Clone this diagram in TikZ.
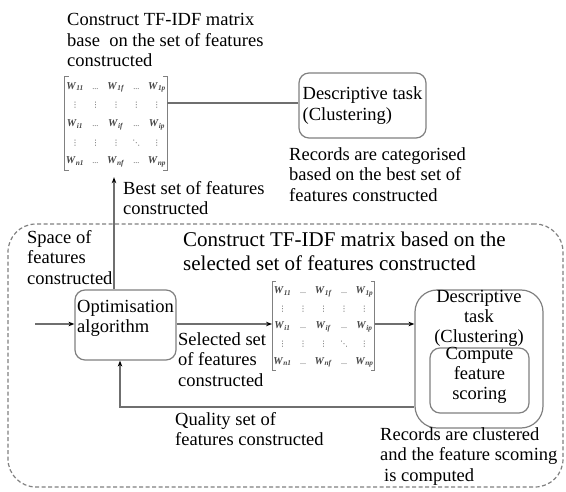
\documentclass[tikz,border=0pt]{standalone}
\usepackage{amsmath}
\usepackage{fontspec}
\setmainfont{Liberation Serif}
\newfontfamily\dejavu{DejaVu Sans}
\usetikzlibrary{arrows.meta,matrix}
\definecolor{linegray}{HTML}{6F6F6F}
\definecolor{boxgray}{HTML}{808080}
\definecolor{matgray}{HTML}{454545}
\newcommand{\mw}[1]{\textbf{\textit{W}}\textsubscript{\textbf{\textit{#1}}}}
\newcommand{\md}{{\fontsize{8}{8}\selectfont ...}}
\newcommand{\mv}{{\dejavu\fontsize{7.5}{8}\selectfont ⋮}}
\newcommand{\mdd}{{\dejavu\fontsize{7.5}{8}\selectfont ⋱}}
\begin{document}
\begin{tikzpicture}[x=1pt,y=-1pt,
  txt/.style={inner sep=0pt, align=left, anchor=north west, font=\fontsize{18.5}{20.5}\selectfont},
  ctxt/.style={inner sep=0pt, align=center, anchor=north, font=\fontsize{18.5}{20}\selectfont},
  head/.style={inner sep=0pt, align=left, anchor=north west, font=\fontsize{21}{24}\selectfont},
  box/.style={draw=boxgray, line width=1.2pt, rounded corners=10pt, inner sep=0pt},
  dbox/.style={draw=boxgray, line width=1.2pt, dashed, dash pattern=on 4pt off 2.5pt, rounded corners=28pt, inner sep=0pt},
  conn/.style={draw=linegray, line width=1.3pt},
  arr/.style={conn, -{Stealth[length=6pt,width=4.5pt,color=black]}},
  brk/.style={draw=boxgray, line width=1pt},
  tfm/.style={matrix of nodes, inner sep=0pt, column sep=0pt, row sep=0pt,
    nodes={inner sep=0pt, minimum width=20.5pt, minimum height=#1, anchor=center,
      text height=6.5pt, text depth=0.5pt, text=matgray, font=\fontsize{10.5}{12}\selectfont}},
]
\useasboundingbox (0,0) rectangle (566,492);

% upper part
\node[txt] (t1) at (67,13.4) {Construct TF-IDF matrix\\base\ \ on the set of features\\constructed};
\matrix (m1) [tfm=18.6pt] at (116,123.5) {
  \mw{11} & \md & \mw{1f} & \md & \mw{1p}\\
  \mv & \mv & \mv & \mv & \mv\\
  \mw{i1} & \md & \mw{if} & \md & \mw{ip}\\
  \mv & \mv & \mv & \mdd & \mv\\
  \mw{n1} & \md & \mw{nf} & \md & \mw{np}\\
};
\draw[brk] ([xshift=4pt]m1.north west) -- (m1.north west) -- (m1.south west) -- ([xshift=4pt]m1.south west);
\draw[brk] ([xshift=-4pt]m1.north east) -- (m1.north east) -- (m1.south east) -- ([xshift=-4pt]m1.south east);
\node[box, align=left, inner xsep=2pt, inner ysep=0pt, minimum width=127pt, minimum height=65pt,
      font=\fontsize{18.5}{21}\selectfont] (d1) at (362.5,105.5) {Descriptive task\\(Clustering)};
\node[txt] (r1) at (289,147) {Records are categorised\\based on the best set of\\features constructed};
\node[txt] (b1) at (123,181) {Best set of features\\constructed};
\coordinate (tl) at (0,103);
\draw[conn] (m1.east |- tl) -- (d1.west |- tl);

% dashed frame
\node[dbox, minimum width=555pt, minimum height=263pt] (frame) at (285.5,355.5) {};
\node[head] (h2) at (183,231.7) {Construct TF-IDF matrix based on the\\selected set of features constructed};
\node[txt] (s1) at (27,230) {Space of\\features\\constructed};

% optimisation
\node[box, minimum width=101pt, minimum height=70pt] (opt) at (125.5,325) {};
\node[txt] (optt) at (77,300) {Optimisation\\algorithm};
\coordinate (in) at (35,324);
\draw[arr] (in) -- (in -| opt.west);

% up arrow
\coordinate (up) at (114,0);
\draw[arr, shorten >=7pt] (up |- opt.north) -- (up |- m1.south);

% lower matrix
\matrix (m2) [tfm=17.6pt] at (323.5,326) {
  \mw{11} & \md & \mw{1f} & \md & \mw{1p}\\
  \mv & \mv & \mv & \mv & \mv\\
  \mw{i1} & \md & \mw{if} & \md & \mw{ip}\\
  \mv & \mv & \mv & \mdd & \mv\\
  \mw{n1} & \md & \mw{nf} & \md & \mw{np}\\
};
\draw[brk] ([xshift=4pt]m2.north west) -- (m2.north west) -- (m2.south west) -- ([xshift=4pt]m2.south west);
\draw[brk] ([xshift=-4pt]m2.north east) -- (m2.north east) -- (m2.south east) -- ([xshift=-4pt]m2.south east);
\draw[arr] (opt.east |- in) -- (m2.west |- in);

% descriptive task lower
\node[box, rounded corners=22pt, minimum width=128pt, minimum height=138pt] (d2) at (479,359) {};
\node[ctxt] (d2t) at (479,290) {Descriptive\\task\\(Clustering)};
\node[box, minimum width=99pt, minimum height=65pt] (cs) at (479.5,380.5) {};
\node[ctxt] (cst) at (479.5,347) {Compute\\feature\\scoring};
\draw[arr] (m2.east |- in) -- (d2.west |- in);

% feedback
\coordinate (fb) at (120,407);
\draw[arr] (fb -| d2.west) -- (fb) -- (fb |- opt.south);

\node[txt] (sel) at (178,332) {Selected set\\of features\\constructed};
\node[txt] (q) at (175,412) {Quality set of\\features constructed};
\node[txt] (rc) at (380,427) {Records are clustered\\and the feature scoming\\\hspace*{4pt}is computed};
\end{tikzpicture}
\end{document}
